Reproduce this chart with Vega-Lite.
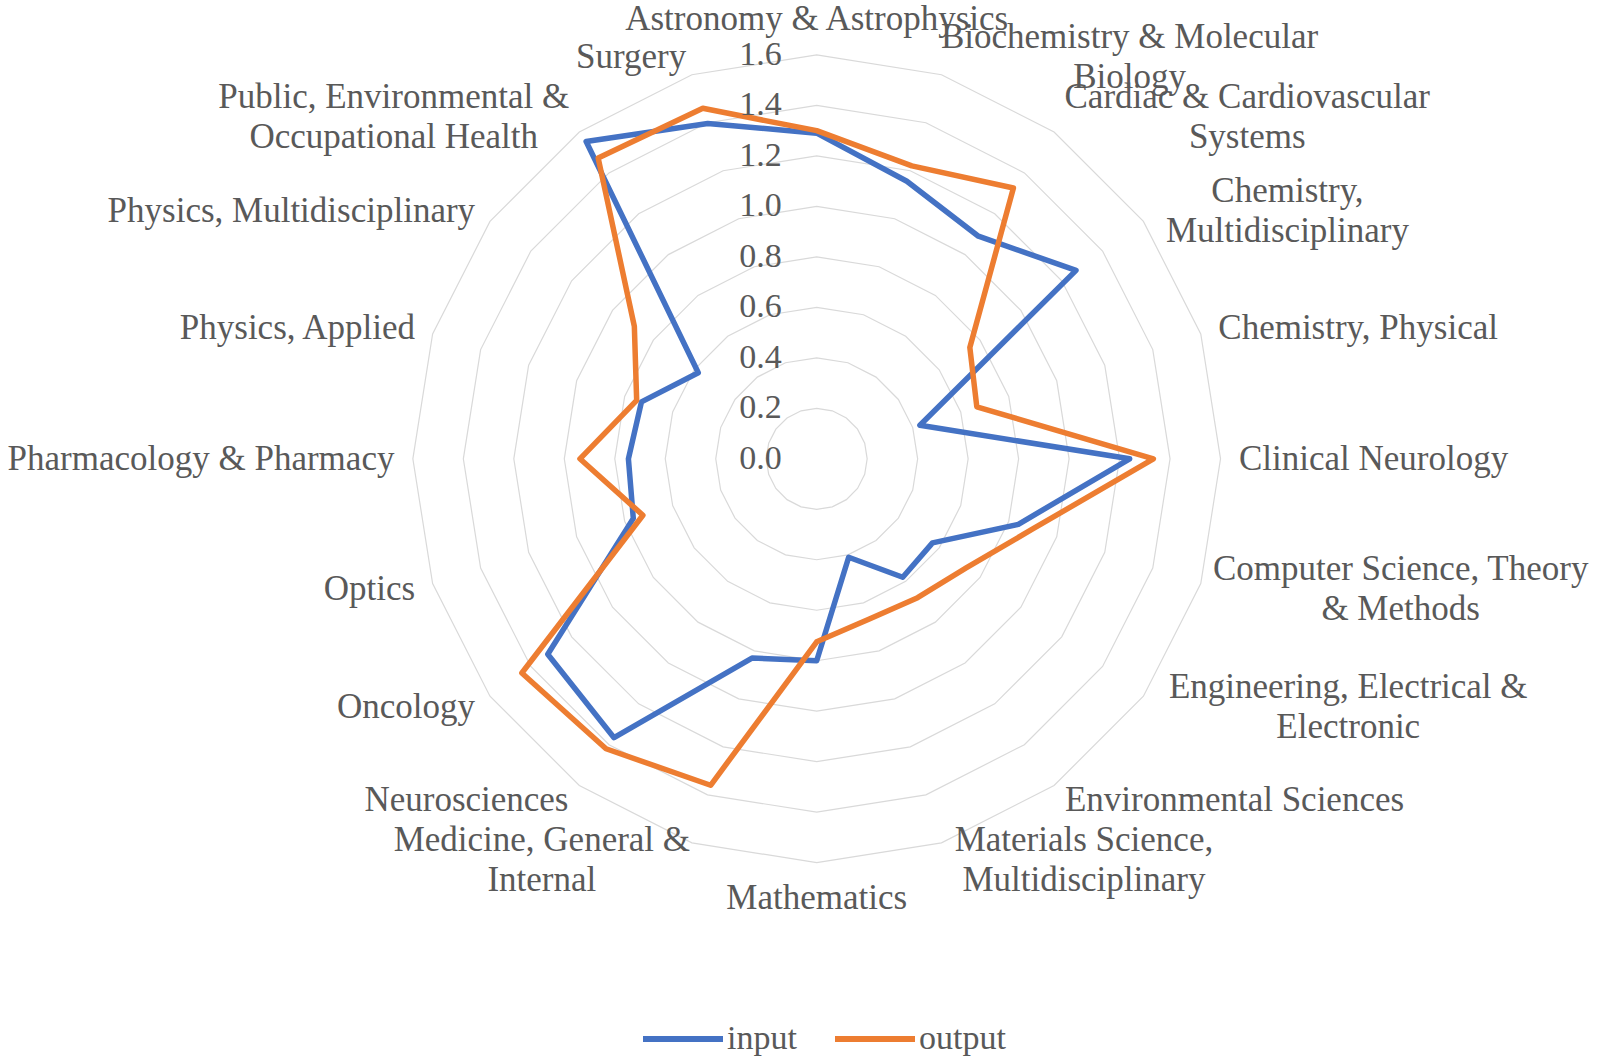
{
  "$schema": "https://vega.github.io/schema/vega-lite/v6.json",
  "width": 1603,
  "height": 1063,
  "autosize": {"type": "none"},
  "padding": 0,
  "background": "white",
  "config": {"view": {"stroke": null}, "font": "Liberation Serif"},
  "datasets": {
    "scores": [
      {"idx": 0, "category": "Astronomy & Astrophysics", "input": 1.29, "output": 1.30},
      {"idx": 1, "category": "Biochemistry & Molecular\nBiology", "input": 1.156, "output": 1.22},
      {"idx": 2, "category": "Cardiac & Cardiovascular\nSystems", "input": 1.09, "output": 1.326},
      {"idx": 3, "category": "Chemistry,\nMultidisciplinary", "input": 1.27, "output": 0.75},
      {"idx": 4, "category": "Chemistry, Physical", "input": 0.43, "output": 0.667},
      {"idx": 5, "category": "Clinical Neurology", "input": 1.24, "output": 1.334},
      {"idx": 6, "category": "Computer Science, Theory\n& Methods", "input": 0.84, "output": 0.90},
      {"idx": 7, "category": "Engineering, Electrical &\nElectronic", "input": 0.567, "output": 0.734},
      {"idx": 8, "category": "Environmental Sciences", "input": 0.58, "output": 0.68},
      {"idx": 9, "category": "Materials Science,\nMultidisciplinary", "input": 0.41, "output": 0.668},
      {"idx": 10, "category": "Mathematics", "input": 0.80, "output": 0.725},
      {"idx": 11, "category": "Medicine, General &\nInternal", "input": 0.83, "output": 1.36},
      {"idx": 12, "category": "Neurosciences", "input": 1.366, "output": 1.42},
      {"idx": 13, "category": "Oncology", "input": 1.317, "output": 1.444},
      {"idx": 14, "category": "Optics", "input": 0.764, "output": 0.724},
      {"idx": 15, "category": "Pharmacology & Pharmacy", "input": 0.746, "output": 0.938},
      {"idx": 16, "category": "Physics, Applied", "input": 0.73, "output": 0.75},
      {"idx": 17, "category": "Physics, Multidisciplinary", "input": 0.58, "output": 0.893},
      {"idx": 18, "category": "Public, Environmental &\nOccupational Health", "input": 1.554, "output": 1.473},
      {"idx": 19, "category": "Surgery", "input": 1.397, "output": 1.46}
    ],
    "ticks": [
      {"v": 0.0}, {"v": 0.2}, {"v": 0.4}, {"v": 0.6}, {"v": 0.8},
      {"v": 1.0}, {"v": 1.2}, {"v": 1.4}, {"v": 1.6}
    ]
  },
  "layer": [
    {
      "data": {"name": "scores"},
      "transform": [
        {"calculate": "datum.idx * PI / 10", "as": "a"},
        {"calculate": "[0.2, 0.4, 0.6, 0.8, 1.0, 1.2, 1.4, 1.6]", "as": "lv"},
        {"flatten": ["lv"]},
        {"calculate": "datum.lv * sin(datum.a)", "as": "gx"},
        {"calculate": "datum.lv * cos(datum.a)", "as": "gy"}
      ],
      "mark": {"type": "line", "interpolate": "linear-closed", "color": "#D9D9D9", "strokeWidth": 1.2},
      "encoding": {
        "x": {"field": "gx", "type": "quantitative", "scale": {"domain": [-3.2357, 3.1153], "nice": false, "zero": false}, "axis": null},
        "y": {"field": "gy", "type": "quantitative", "scale": {"domain": [-2.3938, 1.8177], "nice": false, "zero": false}, "axis": null},
        "detail": {"field": "lv", "type": "nominal"},
        "order": {"field": "idx", "type": "quantitative"}
      }
    },
    {
      "data": {"name": "scores"},
      "transform": [
        {"fold": ["input", "output"], "as": ["series", "value"]},
        {"calculate": "datum.idx * PI / 10", "as": "a"},
        {"calculate": "datum.value * sin(datum.a)", "as": "px"},
        {"calculate": "datum.value * cos(datum.a)", "as": "py"}
      ],
      "mark": {"type": "line", "interpolate": "linear-closed", "strokeWidth": 5.5, "strokeJoin": "round"},
      "encoding": {
        "x": {"field": "px", "type": "quantitative", "scale": {"domain": [-3.2357, 3.1153], "nice": false, "zero": false}, "axis": null},
        "y": {"field": "py", "type": "quantitative", "scale": {"domain": [-2.3938, 1.8177], "nice": false, "zero": false}, "axis": null},
        "color": {
          "field": "series", "type": "nominal",
          "scale": {"domain": ["input", "output"], "range": ["#4472C4", "#ED7D31"]},
          "legend": {
            "orient": "none", "legendX": 640, "legendY": 996, "direction": "horizontal",
            "title": null, "symbolType": "stroke", "symbolSize": 6400, "symbolStrokeWidth": 6,
            "labelFontSize": 34, "labelFont": "Liberation Serif", "labelColor": "#595959",
            "labelOffset": 1, "columnPadding": 26, "padding": 0, "labelLimit": 0
          }
        },
        "order": {"field": "idx", "type": "quantitative"}
      }
    },
    {
      "data": {"name": "ticks"},
      "mark": {"type": "text", "align": "right", "baseline": "middle", "dx": -35, "fontSize": 34, "color": "#595959", "font": "Liberation Serif"},
      "encoding": {
        "x": {"datum": 0, "type": "quantitative"},
        "y": {"field": "v", "type": "quantitative"},
        "text": {"field": "v", "type": "quantitative", "format": ".1f"}
      }
    },
    {
      "data": {"name": "scores"},
      "transform": [
        {"calculate": "datum.idx * PI / 10", "as": "a"},
        {"filter": "sin(datum.a) > 0.01 && indexof(datum.category, '\\n') < 0"},
        {"calculate": "1.673 * sin(datum.a)", "as": "lx"},
        {"calculate": "1.673 * cos(datum.a)", "as": "ly"}
      ],
      "mark": {"type": "text", "align": "left", "baseline": "middle", "fontSize": 35, "color": "#595959", "font": "Liberation Serif"},
      "encoding": {
        "x": {"field": "lx", "type": "quantitative"},
        "y": {"field": "ly", "type": "quantitative"},
        "text": {"field": "category", "type": "nominal"}
      }
    },
    {
      "data": {"name": "scores"},
      "transform": [
        {"calculate": "datum.idx * PI / 10", "as": "a"},
        {"filter": "sin(datum.a) < -0.01 && indexof(datum.category, '\\n') < 0"},
        {"calculate": "1.673 * sin(datum.a)", "as": "lx"},
        {"calculate": "1.673 * cos(datum.a)", "as": "ly"}
      ],
      "mark": {"type": "text", "align": "right", "baseline": "middle", "fontSize": 35, "color": "#595959", "font": "Liberation Serif"},
      "encoding": {
        "x": {"field": "lx", "type": "quantitative"},
        "y": {"field": "ly", "type": "quantitative"},
        "text": {"field": "category", "type": "nominal"}
      }
    },
    {
      "data": {"name": "scores"},
      "transform": [
        {"filter": "datum.idx == 0"},
        {"calculate": "1.673", "as": "ly"}
      ],
      "mark": {"type": "text", "align": "center", "baseline": "bottom", "fontSize": 35, "color": "#595959", "font": "Liberation Serif"},
      "encoding": {
        "x": {"datum": 0, "type": "quantitative"},
        "y": {"field": "ly", "type": "quantitative"},
        "text": {"field": "category", "type": "nominal"}
      }
    },
    {
      "data": {"name": "scores"},
      "transform": [
        {"filter": "datum.idx == 10"},
        {"calculate": "-1.673", "as": "ly"}
      ],
      "mark": {"type": "text", "align": "center", "baseline": "top", "fontSize": 35, "color": "#595959", "font": "Liberation Serif"},
      "encoding": {
        "x": {"datum": 0, "type": "quantitative"},
        "y": {"field": "ly", "type": "quantitative"},
        "text": {"field": "category", "type": "nominal"}
      }
    },
    {
      "data": {"name": "scores"},
      "transform": [
        {"filter": "indexof(datum.category, '\\n') >= 0"},
        {"calculate": "datum.idx * PI / 10", "as": "a"},
        {"calculate": "split(datum.category, '\\n')", "as": "parts"},
        {"calculate": "max(length(datum.parts[0]), length(datum.parts[1]))", "as": "maxc"},
        {"calculate": "1.673 * sin(datum.a) + (sin(datum.a) > 0 ? 1 : -1) * datum.maxc * 0.0301", "as": "lx"},
        {"calculate": "1.673 * cos(datum.a) + 0.0792", "as": "ly"}
      ],
      "mark": {"type": "text", "align": "center", "baseline": "middle", "fontSize": 35, "lineHeight": 40, "lineBreak": "\n", "color": "#595959", "font": "Liberation Serif"},
      "encoding": {
        "x": {"field": "lx", "type": "quantitative"},
        "y": {"field": "ly", "type": "quantitative"},
        "text": {"field": "category", "type": "nominal"}
      }
    }
  ]
}
